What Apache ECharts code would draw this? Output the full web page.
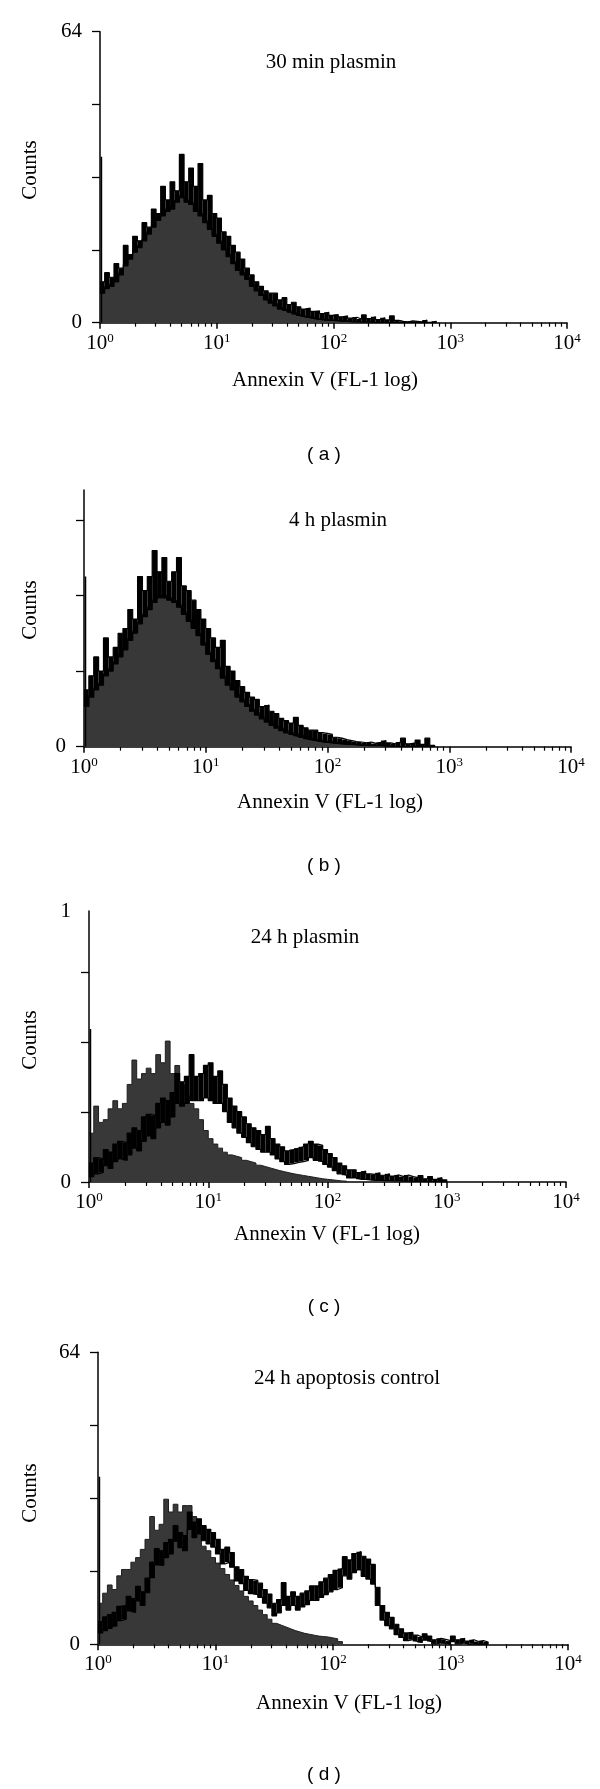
<!DOCTYPE html>
<html><head><meta charset="utf-8">
<script src="https://cdn.jsdelivr.net/npm/echarts@6/dist/echarts.min.js"></script>
<style>html,body{margin:0;padding:0;background:#fff}#c{width:600px;height:1789px}</style>
</head><body><div id="c"></div>
<script>
// ---------- data ----------
const binWidth = 0.04;          // histogram bin width, in decades of Annexin V fluorescence
const overflowChannel = 0.012;  // position (decades) of the first-channel pile-up
const decades = [0, 1, 2, 3, 4];

const titles = ['30 min plasmin', '4 h plasmin', '24 h plasmin', '24 h apoptosis control'];
const letters = ['( a )', '( b )', '( c )', '( d )'];
const xName = 'Annexin V (FL-1 log)';
const yName = 'Counts';

const yMax = [64, 54.3, 1, 64];
const yTicks = [[0, 16, 32, 48, 64], [0, 16, 32, 48], [0, 0.257, 0.515, 0.773], [0, 16, 32, 48, 64]];
const yLabels = [[0, 64], [0], [0, 1], [0, 64]];

// first-channel spike of the outlined histogram
const overflow = [36.5, 36, 0.565, 36.7];

// (a) 30 min plasmin : filled histogram, and the noisy outlined histogram as a low/high band
const filledA = [7,8,8.5,9.5,11,13,14.5,16,17,18.5,20,21.5,23,24,25,25.5,27,28,27,26.5,25,24,22.5,21,19.5,18,16.5,15,13.5,12,11,10,8.5,7.5,6.5,5.5,4.8,4.2,3.5,3,2.6,2.2,1.8,1.5,1.3,1.1,0.9,0.8,0.7,0.6,0.5,0.4,0.4,0.3,0.3,0.2,0.2,0.2,0.1,0.1,0.1,0];
const bandLowA = [6.5,7.5,8,9,10.5,12.5,14,15.5,16.5,18,19.5,21,22.5,23.5,24.5,25,26.5,27.5,26.5,26,24.5,23.5,22,20.5,19,17.5,16,14.5,13,11.5,10.5,9.5,8,7,6,5,4.3,3.7,3,2.6,2.2,1.8,1.5,1.3,1.1,0.9,0.7,0.6,0.5,0.5,0.4,0.3,0.3,0.2,0.2,0.1,0.1,0.1,0,0,0,0,0,0,0,0,0,0,0,0,0,0,0];
const bandHighA = [9,11,10,13,12,17,15,19,18,22,21,25,24,30,27,31,29,37,31,34,30,35,27,28,24,23,20,19,17,15.5,14,12,10.5,9,8,7,6.5,6.5,5,5.5,4,4.5,3.5,3,3.2,2.5,2.6,2,2.3,1.6,1.8,1.3,1.5,1,1.2,0.8,1.7,0.9,1.3,0.7,1.1,0.6,1.5,0.5,0.3,0.2,0.4,0.3,0.2,0.6,0.1,0.3,0];

// (b) 4 h plasmin
const filledB = [9,11,12.5,13.5,15.5,16.5,18,19.5,21,23,24.5,26.5,28,29.5,31,32,32,31.5,31,30,28.5,27,25.5,24,22,20,18.5,17,15,13.5,12.5,11,10,9,8,7.2,6.4,5.7,5,4.4,3.9,3.4,3,2.7,2.4,2.1,1.8,1.6,1.4,1.2,1.1,1,0.9,0.8,0.7,0.6,0.5,0.4,0.4,0.3,0.3,0.2,0.1,0];
const bandLowB = [8.5,10.5,12,13,15,16,17.5,19,20.5,22.5,24,26,27.5,29,30.5,31.5,31.5,31,30.5,29.5,28,26.5,25,23.5,21.5,19.5,18,16.5,14.5,13,12,10.5,9.5,8.5,7.5,6.7,5.9,5.2,4.5,3.9,3.4,2.9,2.5,2.2,1.9,1.6,1.4,1.2,1,0.9,0.8,0.7,0.6,0.5,0.5,0.4,0.3,0.3,0.2,0.2,0.2,0.1,0.1,0,0,0,0,0,0,0,0,0,0];
const bandHighB = [12,15,19,16,23,19,21,24,25,29,27,36,33,36,41.5,37,40,35,37,40,34,33,31,29,27,25,23,21,22.5,17,16,14,12.7,11.5,10.5,10,8.5,8.8,7.5,7,6,5.5,5,6.2,4.5,4,3.5,3.5,3,2.8,2.6,2,1.8,1.5,1.3,1.1,1,0.8,1,0.7,0.9,1.3,0.8,0.6,1,1.8,0.6,0.8,1.4,0.5,1.8,0.3,0];

// (c) 24 h plasmin
const filledC = [0.18,0.28,0.22,0.23,0.27,0.30,0.27,0.29,0.36,0.45,0.38,0.40,0.42,0.40,0.47,0.44,0.52,0.40,0.43,0.36,0.32,0.29,0.27,0.23,0.19,0.16,0.14,0.125,0.11,0.10,0.095,0.09,0.08,0.075,0.07,0.062,0.057,0.052,0.047,0.042,0.038,0.034,0.03,0.027,0.024,0.021,0.018,0.015,0.012,0.01,0.008,0.006,0.004,0.003,0];
const bandLowC = [0.02,0.03,0.035,0.06,0.05,0.075,0.085,0.08,0.1,0.125,0.115,0.15,0.17,0.16,0.2,0.22,0.21,0.24,0.29,0.28,0.29,0.3,0.3,0.3,0.31,0.3,0.29,0.29,0.26,0.22,0.2,0.18,0.165,0.145,0.13,0.12,0.11,0.11,0.1,0.085,0.075,0.065,0.068,0.072,0.075,0.08,0.09,0.08,0.075,0.065,0.055,0.042,0.03,0.025,0.015,0.015,0.01,0.01,0.008,0.006,0.006,0.005,0.005,0.004,0.004,0.003,0.003,0.002,0.002,0.002,0.001,0.001,0,0,0,0];
const bandHighC = [0.07,0.09,0.085,0.12,0.11,0.14,0.15,0.145,0.18,0.2,0.19,0.24,0.25,0.245,0.29,0.31,0.3,0.33,0.40,0.37,0.39,0.47,0.39,0.40,0.43,0.44,0.39,0.41,0.36,0.31,0.28,0.26,0.24,0.215,0.2,0.19,0.175,0.205,0.16,0.14,0.13,0.115,0.12,0.125,0.13,0.14,0.15,0.14,0.135,0.12,0.105,0.09,0.07,0.06,0.045,0.045,0.035,0.04,0.03,0.028,0.034,0.025,0.03,0.022,0.026,0.02,0.026,0.02,0.016,0.024,0.012,0.02,0.01,0.016,0.008,0];

// (d) 24 h apoptosis control
const filledD = [9,11.2,13,12,15,16.4,16.4,18,19,20.8,23,28,25,26.3,31.8,29,30.7,29,30.4,30.4,28,26.7,21.5,20.5,19,17.8,16.6,15.3,14.1,12.9,11.7,10.5,9.5,8.5,7.5,6.5,5.5,4.6,4.2,3.8,3.4,3,2.7,2.4,2.2,2,1.8,1.7,1.6,1.4,1.2,0.6,0];
const bandLowD = [2.5,3,3.5,4,5.2,5.5,7.3,7,9.5,8.5,11.3,14.6,17.4,17.3,19,19.8,22.6,21.2,20.5,25.2,23.4,24.2,22.7,22,21.3,19.8,17.6,18,16.9,13.9,13.3,11.8,11.1,10.9,10.3,9,8,6.2,6.9,8.5,7.5,8.5,7.5,8.2,8.7,9.6,9.6,10.3,10.9,11.5,12,12.4,15,14.3,15.7,16.3,14.9,14.3,13.2,8.5,5.3,4.1,3.4,2.1,1.5,0.8,1,0.6,0.4,0.9,0.6,0.1,0.3,0.2,0,0.6,0.1,0.3,0,0.1,0,0,0,0];
const bandHighD = [5,6,6.5,7,8.3,8.5,10.5,10,12.7,11.5,14.5,18,21,20.5,22.3,23,26,24.5,23.8,29,26.8,27.5,26,25.2,24.5,23,20.8,21.3,20.1,17,16.4,14.9,14.2,14,13.4,12,11,9,9.8,13.5,10.5,11.5,10.5,11.2,11.7,12.8,12.8,13.7,14.5,15.3,16.2,16.6,19.2,18.5,19.9,20.3,19.3,18.7,17.5,12.5,8.5,7,5.9,4.4,3.4,2.5,2.6,2,1.6,2.3,1.8,1,1.3,1.1,0.8,1.8,1,1.3,0.7,1,0.6,0.8,0.5,0];

const filled = [filledA, filledB, filledC, filledD];
const bandLow = [bandLowA, bandLowB, bandLowC, bandLowD];
const bandHigh = [bandHighA, bandHighB, bandHighC, bandHighD];

// ---------- layout ----------
const grids = [
  {left: 100, top: 31.7, width: 467, height: 291},
  {left: 84, top: 490, width: 487, height: 256.7},
  {left: 89, top: 911, width: 477, height: 271},
  {left: 98, top: 1352.3, width: 470, height: 292}
];
const titlePos = [[331, 62], [338, 520], [305, 937], [347, 1378]];
const countsPos = [[30, 170], [30, 610], [30, 1040], [30, 1493]];
const xNamePos = [[325, 380], [330, 802], [327, 1234], [349, 1703]];
const letterPos = [[324, 455], [324, 866], [324, 1307], [324, 1775]];

const SERIF = "'Liberation Serif', 'DejaVu Serif', serif";
const SANS = "'Liberation Sans', Arial, sans-serif";

const minorTicks = [];
for (let d = 0; d < 4; d++) for (let m = 2; m <= 9; m++) minorTicks.push(d + Math.log10(m));

function bandItem(params, api) {
  const x0 = api.value(0), lo = api.value(1), hi = api.value(2);
  const pA = api.coord([x0, hi]);
  const pB = api.coord([x0 + binWidth, lo]);
  return {
    type: 'rect',
    shape: {x: pA[0], y: pA[1], width: pB[0] - pA[0], height: Math.max(pB[1] - pA[1], 0)},
    style: {fill: '#000'}
  };
}

const xAxis = [], yAxis = [], series = [], graphic = [];
grids.forEach((g, k) => {
  xAxis.push({
    gridIndex: k, type: 'value', min: 0, max: 4, position: 'bottom',
    axisLine: {lineStyle: {color: '#000', width: 1.5}},
    axisTick: {customValues: decades, length: 6, lineStyle: {color: '#000', width: 1.5}},
    axisLabel: {
      customValues: decades, margin: 9, color: '#000',
      formatter: v => '{b|10}{s|' + v + '}',
      rich: {
        b: {fontFamily: SERIF, fontSize: 21, lineHeight: 22, verticalAlign: 'bottom', color: '#000'},
        s: {fontFamily: SERIF, fontSize: 13, lineHeight: 14, verticalAlign: 'top', color: '#000'}
      }
    },
    splitLine: {show: false}
  });
  xAxis.push({
    gridIndex: k, type: 'value', min: 0, max: 4, position: 'bottom',
    axisLine: {show: false},
    axisTick: {customValues: minorTicks, length: 4, lineStyle: {color: '#000', width: 1.2}},
    axisLabel: {show: false}, splitLine: {show: false}
  });
  yAxis.push({
    gridIndex: k, type: 'value', min: 0, max: yMax[k],
    axisLine: {show: true, lineStyle: {color: '#000', width: 1.5}},
    axisTick: {show: true, customValues: yTicks[k], length: 8, lineStyle: {color: '#000', width: 1.3}},
    axisLabel: {customValues: yLabels[k], margin: 18, color: '#000', fontFamily: SERIF, fontSize: 21},
    splitLine: {show: false}
  });
  // filled (control) histogram
  series.push({
    type: 'line', xAxisIndex: 2 * k, yAxisIndex: k, step: 'end', showSymbol: false, silent: true,
    data: filled[k].map((v, i) => [i * binWidth, v]),
    lineStyle: {color: '#1e1e1e', width: 1},
    areaStyle: {color: '#383838', opacity: 1}, z: 2
  });
  // outlined histogram: noisy trace drawn as the band between its low and high envelopes
  series.push({
    type: 'custom', xAxisIndex: 2 * k, yAxisIndex: k, silent: true, clip: true,
    coordinateSystem: 'cartesian2d',
    encode: {x: 0, y: [1, 2]},
    data: bandLow[k].map((v, i) => [i * binWidth, v, bandHigh[k][i]]),
    renderItem: bandItem, z: 3
  });
  [bandLow[k], bandHigh[k]].forEach(arr => series.push({
    type: 'line', xAxisIndex: 2 * k, yAxisIndex: k, step: 'end', showSymbol: false, silent: true,
    data: arr.map((v, i) => [i * binWidth, v]),
    lineStyle: {color: '#000', width: 1.2}, z: 3
  }));
  series.push({
    type: 'line', xAxisIndex: 2 * k, yAxisIndex: k, showSymbol: false, silent: true,
    data: [[overflowChannel, 0], [overflowChannel, overflow[k]]],
    lineStyle: {color: '#000', width: 1.6}, z: 4
  });
  graphic.push({type: 'text', x: titlePos[k][0], y: titlePos[k][1],
    style: {text: titles[k], font: '21px ' + SERIF, fill: '#000', textAlign: 'center', textVerticalAlign: 'middle'}});
  graphic.push({type: 'text', x: countsPos[k][0], y: countsPos[k][1], rotation: Math.PI / 2,
    style: {text: yName, font: '21px ' + SERIF, fill: '#000', textAlign: 'center', textVerticalAlign: 'middle'}});
  graphic.push({type: 'text', x: xNamePos[k][0], y: xNamePos[k][1],
    style: {text: xName, font: '21px ' + SERIF, fill: '#000', textAlign: 'center', textVerticalAlign: 'middle'}});
  graphic.push({type: 'text', x: letterPos[k][0], y: letterPos[k][1],
    style: {text: letters[k], font: '19px ' + SANS, fill: '#000', textAlign: 'center', textVerticalAlign: 'middle'}});
});

const chart = echarts.init(document.getElementById('c'), null, {renderer: 'canvas'});
chart.setOption({
  animation: false, backgroundColor: '#fff',
  grid: grids.map(g => Object.assign({containLabel: false}, g)),
  xAxis, yAxis, series, graphic
});
</script></body></html>
